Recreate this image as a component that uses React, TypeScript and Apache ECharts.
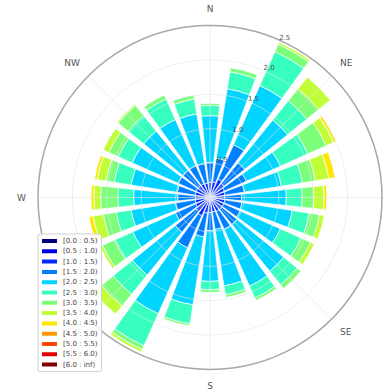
import React, { useEffect, useRef } from 'react';
import * as echarts from 'echarts';

// 24 direction sectors, clockwise from north, 15° each
const directions = ['0', '15', '30', '45', '60', '75', '90', '105', '120', '135', '150', '165',
  '180', '195', '210', '225', '240', '255', '270', '285', '300', '315', '330', '345'];
const compassLabels = ['N', 'NE', 'E', 'SE', 'S', 'SW', 'W', 'NW'];
const radialMax = 2.5;
const radialStep = 0.5;

const speedBins = ['[0.0 : 0.5)', '[0.5 : 1.0)', '[1.0 : 1.5)', '[1.5 : 2.0)', '[2.0 : 2.5)', '[2.5 : 3.0)',
  '[3.0 : 3.5)', '[3.5 : 4.0)', '[4.0 : 4.5)', '[4.5 : 5.0)', '[5.0 : 5.5)', '[5.5 : 6.0)', '[6.0 : inf)'];
const binColors = ['#000080', '#0000e0', '#002bff', '#0080ff', '#00d4ff', '#37ffc0', '#7bff7b',
  '#c0ff37', '#ffe600', '#ff9700', '#ff4800', '#e00000', '#800000'];

// frequency per direction for each speed bin
const bin00 = [0.02, 0.02, 0.02, 0.02, 0.02, 0.02, 0.02, 0.02, 0.02, 0.02, 0.02, 0.02, 0.02, 0.02, 0.02, 0.02, 0.02, 0.02, 0.02, 0.02, 0.02, 0.02, 0.02, 0.02];
const bin01 = [0.04, 0.04, 0.06, 0.05, 0.04, 0.04, 0.04, 0.04, 0.04, 0.04, 0.04, 0.04, 0.04, 0.04, 0.06, 0.05, 0.04, 0.04, 0.04, 0.04, 0.04, 0.04, 0.04, 0.04];
const bin02 = [0.16, 0.17, 0.21, 0.19, 0.17, 0.16, 0.15, 0.16, 0.16, 0.16, 0.16, 0.15, 0.16, 0.17, 0.21, 0.19, 0.17, 0.16, 0.15, 0.16, 0.16, 0.16, 0.16, 0.15];
const bin03 = [0.29, 0.35, 0.55, 0.39, 0.35, 0.29, 0.25, 0.25, 0.26, 0.29, 0.29, 0.26, 0.26, 0.35, 0.51, 0.39, 0.32, 0.29, 0.26, 0.26, 0.29, 0.29, 0.29, 0.29];
const bin04 = [0.68, 1.02, 0.94, 0.80, 0.54, 0.54, 0.65, 0.74, 0.64, 0.87, 0.90, 0.83, 0.74, 1.00, 1.05, 0.80, 0.68, 0.65, 0.64, 0.68, 0.73, 0.73, 0.73, 0.73];
const bin05 = [0.15, 0.25, 0.54, 0.36, 0.44, 0.31, 0.23, 0.25, 0.33, 0.25, 0.19, 0.13, 0.12, 0.28, 0.51, 0.36, 0.29, 0.22, 0.23, 0.25, 0.22, 0.29, 0.33, 0.22];
const bin06 = [0.03, 0.06, 0.12, 0.22, 0.29, 0.19, 0.17, 0.15, 0.15, 0.07, 0.04, 0.04, 0.04, 0.03, 0.06, 0.22, 0.19, 0.19, 0.25, 0.12, 0.15, 0.19, 0.06, 0.06];
const bin07 = [0, 0, 0.03, 0.22, 0.12, 0.20, 0.15, 0.07, 0.06, 0, 0, 0, 0, 0, 0.04, 0.15, 0.04, 0.15, 0.10, 0.13, 0.09, 0.02, 0, 0];
const bin08 = [0, 0, 0, 0, 0.04, 0.09, 0.04, 0, 0, 0, 0, 0, 0, 0, 0, 0, 0, 0.06, 0.04, 0.04, 0, 0, 0, 0];
const bin09 = [0, 0, 0, 0, 0, 0, 0, 0, 0, 0, 0, 0, 0, 0, 0, 0, 0, 0, 0, 0, 0, 0, 0, 0];
const bin10 = [0, 0, 0, 0, 0, 0, 0, 0, 0, 0, 0, 0, 0, 0, 0, 0, 0, 0, 0, 0, 0, 0, 0, 0];
const bin11 = [0, 0, 0, 0, 0, 0, 0, 0, 0, 0, 0, 0, 0, 0, 0, 0, 0, 0, 0, 0, 0, 0, 0, 0];
const bin12 = [0, 0, 0, 0, 0, 0, 0, 0, 0, 0, 0, 0, 0, 0, 0, 0, 0, 0, 0, 0, 0, 0, 0, 0];

const binData = [bin00, bin01, bin02, bin03, bin04, bin05, bin06, bin07, bin08, bin09, bin10, bin11, bin12];

export default function App() {
  const ref = useRef<HTMLDivElement>(null);

  useEffect(() => {
    if (!ref.current) return;
    const chart = echarts.init(ref.current, null, { renderer: 'svg' });
    const center = [210, 197.5];
    const radius = 172;
    // label ring sits slightly outside the grid circles, like the reference's rgrid labels
    const labelOffset = 0.1;
    const labelRadius = radius * (radialMax + labelOffset) / radialMax;
    const font = 'DejaVu Sans';
    const gridColor = 'rgba(228,228,228,0.6)';

    chart.setOption({
      animation: false,
      backgroundColor: '#ffffff',
      polar: [
        { center, radius },
        { center, radius },
        { center, radius: labelRadius },
      ],
      angleAxis: [
        {
          polarIndex: 0, type: 'value', min: 0, max: 360, interval: 45,
          startAngle: 90, clockwise: true, z: 3,
          axisLine: { show: true, lineStyle: { color: '#a8a8a8', width: 1.5 } },
          axisTick: { show: false },
          axisLabel: {
            margin: 12, color: '#555', fontSize: 9, fontFamily: font,
            formatter: (v: number) => (v >= 360 ? '' : compassLabels[Math.round(v / 45)]),
          },
          splitLine: { show: true, lineStyle: { color: gridColor, width: 1 } },
        },
        {
          polarIndex: 1, type: 'category', data: directions, startAngle: 97.5,
          clockwise: true, boundaryGap: true,
          axisLine: { show: false }, axisTick: { show: false },
          axisLabel: { show: false }, splitLine: { show: false },
        },
        {
          polarIndex: 2, type: 'value', min: 0, max: 360, startAngle: 63,
          axisLine: { show: false }, axisTick: { show: false },
          axisLabel: { show: false }, splitLine: { show: false },
        },
      ],
      radiusAxis: [
        {
          polarIndex: 0, min: 0, max: radialMax, interval: radialStep, z: 3,
          axisLine: { show: false }, axisTick: { show: false }, axisLabel: { show: false },
          splitLine: { show: true, lineStyle: { color: gridColor, width: 1 } },
        },
        {
          polarIndex: 1, min: 0, max: radialMax,
          axisLine: { show: false }, axisTick: { show: false },
          axisLabel: { show: false }, splitLine: { show: false },
        },
        {
          polarIndex: 2, min: -labelOffset, max: radialMax, splitNumber: 5, z: 4,
          axisLine: { show: false }, axisTick: { show: false }, splitLine: { show: false },
          axisLabel: {
            margin: 1, color: '#555', fontSize: 7, fontFamily: font,
            showMinLabel: false,
            formatter: (v: number) => (v <= 0 ? '' : v.toFixed(1)),
          },
        },
      ],
      legend: {
        orient: 'vertical', left: 38, top: 234,
        data: speedBins, icon: 'rect', itemWidth: 17, itemHeight: 6, itemGap: 2.3,
        padding: [3, 4, 3, 2],
        backgroundColor: 'rgba(255,255,255,0.88)', borderColor: '#d0d0d0', borderWidth: 1, borderRadius: 2,
        textStyle: { fontSize: 7, lineHeight: 8, color: '#444', fontFamily: font },
        selectedMode: false,
      },
      series: binData.map((arr, i) => ({
        type: 'bar',
        name: speedBins[i],
        coordinateSystem: 'polar',
        polarIndex: 1,
        stack: 'wind',
        barCategoryGap: '20%',
        data: arr.map((v) => (v === 0 ? '-' : v)),
        itemStyle: { color: binColors[i], borderColor: '#ffffff', borderWidth: 0.7 },
        emphasis: { disabled: true },
      })),
    });

    return () => chart.dispose();
  }, []);

  return (
    <div
      ref={ref}
      style={{ position: 'fixed', left: 0, top: 0, width: 385, height: 392 }}
    />
  );
}
